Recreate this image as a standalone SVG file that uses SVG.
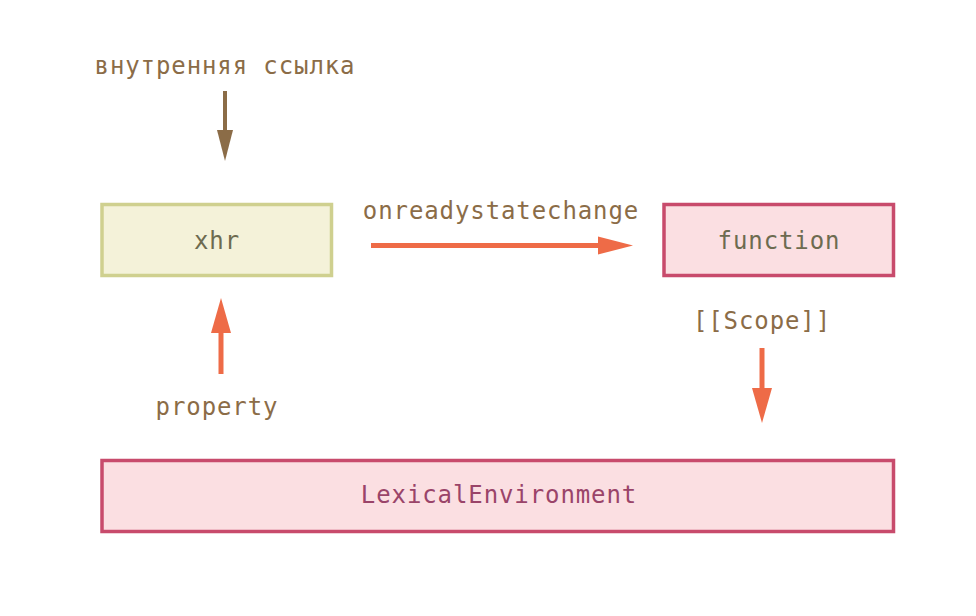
<svg xmlns="http://www.w3.org/2000/svg" width="976" height="616" viewBox="0 0 976 616">
<style>
text{font-family:"DejaVu Sans Mono","Liberation Mono",monospace;font-size:24px;letter-spacing:0.9px;text-anchor:middle}
.lbl{fill:#8b6c47}
.nt{fill:#6d6b50}
.le{fill:#9a4469}
.box-y{fill:#f4f2d9;stroke:#cfd08f;stroke-width:3.5}
.box-p{fill:#fbdfe2;stroke:#c84b6c;stroke-width:3.5}
.ln-o{stroke:#ee6b47;stroke-width:5;fill:none}
.ln-b{stroke:#8b6c47;stroke-width:4;fill:none}
</style>
<rect width="976" height="616" fill="#fff"/>
<g id="node-xhr"><rect class="box-y" x="102" y="204.5" width="229.5" height="71"/><text class="nt" x="217" y="249">xhr</text></g>
<g id="node-function"><rect class="box-p" x="664" y="204.5" width="229.5" height="71"/><text class="nt" x="779" y="249">function</text></g>
<g id="node-lexenv"><rect class="box-p" x="102" y="460.5" width="791.5" height="71"/><text class="le" x="499" y="503">LexicalEnvironment</text></g>
<g id="labels">
<text class="lbl" x="225" y="74">внутренняя ссылка</text>
<text class="lbl" x="501" y="219">onreadystatechange</text>
<text class="lbl" x="762" y="329">[[Scope]]</text>
<text class="lbl" x="217" y="415">property</text>
</g>
<g id="connectors">
<line class="ln-b" x1="225" y1="91" x2="225" y2="132"/>
<polygon fill="#8b6c47" points="217,130 233,130 225,161"/>
<line class="ln-o" x1="371" y1="245.5" x2="600" y2="245.5"/>
<polygon fill="#ee6b47" points="598,236.5 633,245.5 598,254.5"/>
<line class="ln-o" x1="762" y1="348" x2="762" y2="390"/>
<polygon fill="#ee6b47" points="752,388 772,388 762,423"/>
<line class="ln-o" x1="221" y1="374" x2="221" y2="331"/>
<polygon fill="#ee6b47" points="211,333 231,333 221,298"/>
</g>
</svg>
